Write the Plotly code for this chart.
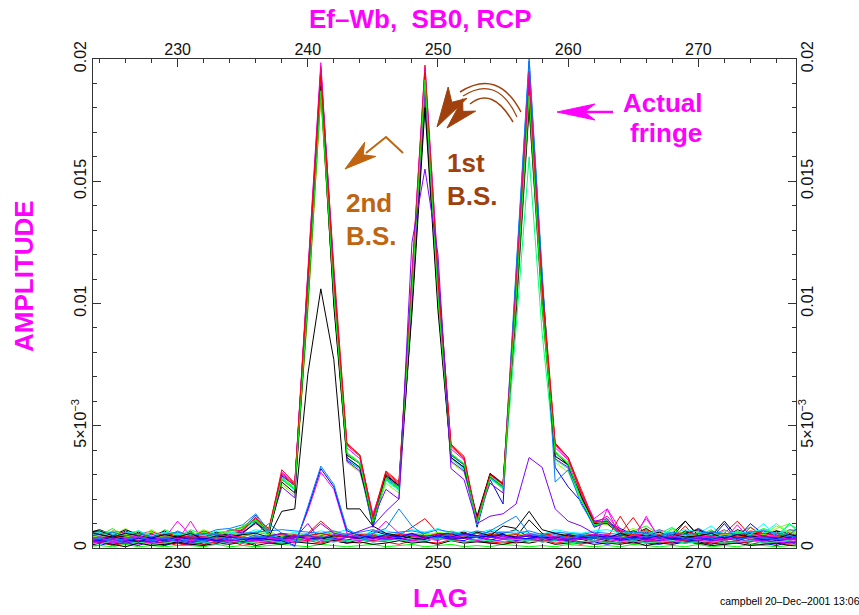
import plotly.graph_objects as go

# ---------------- data (amplitude values in units of 1e-5) ----------------
lags = list(range(223, 279))   # 56 lag samples
UNIT = 1e-5

x_tick_vals = [230, 240, 250, 260, 270]
x_tick_text = ["230", "240", "250", "260", "270"]
y_tick_vals = [0, 0.005, 0.01, 0.015, 0.02]
y_tick_text = ["0", "5\u00d710<sup>\u22123</sup>", "0.01", "0.015", "0.02"]

# baselines with three fringe peaks (lags 223-235 | 236-263 | 264-278)
F01 = [60, 75, 55, 40, 65, 50, 35, 55, 45, 60, 40, 70, 85,
       110, 60, 280, 240, 980, 1860, 1010, 380, 345, 110, 295, 255, 990, 1830, 1000, 380, 340, 120, 290, 250, 960, 1800, 980, 390, 340, 210, 95, 110,
       70, 55, 80, 45, 60, 110, 50, 65, 40, 75, 55, 45, 70, 60, 50]
F02 = [45, 30, 65, 50, 25, 40, 60, 35, 70, 30, 55, 60, 75,
       125, 70, 320, 265, 1130, 1950, 1150, 430, 380, 130, 315, 270, 1120, 1975, 1130, 420, 370, 100, 305, 265, 1100, 1900, 1090, 430, 370, 240, 110, 100,
       60, 125, 45, 70, 35, 55, 80, 40, 60, 110, 50, 35, 65, 45, 55]
F03 = [70, 50, 80, 45, 60, 35, 75, 55, 40, 65, 50, 45, 90,
       120, 65, 290, 245, 1040, 1880, 1060, 390, 350, 95, 285, 245, 1050, 1920, 1060, 385, 345, 90, 295, 255, 1030, 1870, 1040, 395, 350, 200, 90, 120,
       45, 70, 90, 55, 40, 65, 50, 75, 30, 60, 85, 50, 40, 70, 80]
F04 = [35, 55, 40, 70, 45, 60, 30, 50, 65, 40, 55, 35, 80,
       135, 55, 295, 255, 1080, 1910, 1040, 360, 325, 85, 280, 240, 1080, 1940, 1090, 370, 330, 85, 280, 180, 1120, 1990, 1110, 330, 250, 190, 85, 105,
       80, 55, 40, 65, 35, 70, 50, 45, 60, 40, 100, 55, 35, 50, 45]
F05 = [50, 40, 30, 55, 70, 45, 50, 60, 35, 45, 65, 50, 70,
       115, 75, 285, 235, 1060, 1930, 1100, 365, 325, 100, 275, 235, 1030, 1900, 1080, 365, 320, 110, 285, 240, 1090, 1960, 1070, 380, 335, 195, 100, 115,
       55, 45, 60, 75, 50, 35, 60, 90, 45, 55, 40, 60, 100, 55, 45]
F06 = [40, 65, 45, 35, 55, 70, 40, 110, 50, 35, 60, 45, 65,
       105, 50, 310, 265, 1150, 1985, 1120, 410, 365, 140, 290, 250, 1110, 1965, 1140, 405, 360, 125, 300, 265, 1060, 1920, 1040, 410, 360, 225, 120, 160,
       75, 50, 120, 45, 60, 55, 40, 70, 50, 60, 45, 75, 50, 40, 60]
F07 = [75, 55, 50, 80, 40, 75, 45, 65, 55, 70, 45, 60, 80,
       130, 65, 260, 215, 970, 1850, 1020, 350, 310, 115, 265, 225, 1000, 1880, 1020, 350, 310, 115, 265, 225, 1000, 1830, 990, 350, 310, 195, 105, 95,
       60, 80, 55, 40, 75, 50, 65, 45, 70, 55, 60, 45, 80, 100, 60]
F08 = [55, 70, 60, 45, 50, 40, 60, 45, 75, 55, 40, 65, 60,
       110, 60, 285, 240, 1020, 1900, 1070, 370, 330, 100, 280, 240, 1040, 1910, 1050, 370, 325, 95, 285, 245, 900, 1600, 880, 360, 325, 200, 95, 115,
       50, 65, 45, 60, 85, 40, 55, 60, 45, 70, 50, 60, 45, 95, 70]
F09 = [45, 60, 35, 65, 50, 55, 40, 70, 45, 55, 75, 80, 95,
       140, 70, 300, 255, 1100, 1940, 1070, 385, 345, 105, 290, 250, 1080, 1950, 1070, 380, 340, 105, 290, 250, 1140, 2005, 1130, 270, 320, 180, 90, 105,
       65, 45, 70, 50, 60, 45, 80, 55, 40, 65, 50, 45, 60, 50, 65]
F10 = [60, 45, 55, 35, 60, 45, 55, 40, 60, 50, 45, 55, 65,
       100, 70, 250, 205, 1050, 1960, 1120, 355, 315, 120, 240, 200, 990, 1870, 1060, 355, 315, 120, 265, 225, 1060, 1930, 1080, 365, 330, 210, 110, 120,
       55, 40, 65, 50, 45, 60, 70, 45, 55, 40, 65, 50, 55, 45, 60]
F11 = [50, 35, 70, 60, 45, 55, 65, 50, 35, 60, 50, 75, 70,
       125, 60, 300, 255, 1120, 1970, 1090, 420, 375, 120, 305, 260, 1100, 1960, 1080, 415, 365, 110, 300, 260, 1080, 1950, 1060, 420, 365, 220, 100, 130,
       70, 60, 45, 75, 55, 40, 60, 50, 75, 45, 55, 70, 40, 65, 55]
F12 = [65, 40, 50, 75, 55, 45, 70, 35, 55, 45, 65, 50, 60,
       105, 55, 270, 225, 1000, 1890, 990, 370, 330, 100, 300, 255, 960, 1800, 970, 370, 330, 130, 305, 260, 1000, 1820, 1010, 375, 340, 210, 100, 100,
       55, 70, 50, 65, 40, 60, 75, 50, 110, 45, 60, 55, 70, 40, 55]
F13 = [55, 65, 45, 55, 35, 65, 50, 60, 45, 70, 55, 45, 75,
       120, 80, 305, 260, 1090, 1935, 1100, 425, 380, 125, 310, 265, 1070, 1945, 1100, 425, 375, 115, 300, 260, 1040, 1870, 1060, 425, 370, 230, 105, 110,
       65, 50, 75, 55, 45, 70, 50, 65, 55, 45, 70, 60, 50, 75, 65]
F14 = [40, 55, 65, 50, 70, 40, 55, 45, 65, 50, 60, 70, 85,
       115, 65, 280, 240, 1010, 1870, 1040, 385, 345, 105, 285, 245, 1050, 1915, 1030, 385, 345, 105, 285, 245, 1020, 1850, 1000, 390, 345, 200, 95, 105,
       50, 60, 70, 45, 80, 55, 45, 60, 50, 65, 55, 80, 60, 50, 90]

# noise-only baselines
N01 = [20, 30, 15, 25, 35, 20, 10, 25, 30, 15, 20, 35, 25, 30, 45, 40, 35, 50, 60, 45, 55, 40, 70, 55,
       45, 60, 50, 40, 55, 65, 45, 50, 60, 75, 45, 40, 30, 35, 25, 40, 30, 20, 35, 25, 30, 20, 35, 25,
       15, 30, 20, 25, 35, 20, 25, 30]
N02 = [10, 20, 35, 15, 25, 10, 30, 20, 15, 25, 40, 20, 30, 25, 35, 30, 45, 60, 110, 65, 50, 40, 55, 45,
       50, 85, 120, 60, 40, 55, 45, 70, 50, 40, 60, 35, 45, 55, 40, 30, 40, 130, 45, 35, 25, 40, 90, 30,
       25, 40, 30, 85, 45, 30, 20, 35]
N03 = [35, 25, 45, 30, 20, 40, 55, 35, 25, 40, 30, 20, 45, 65, 55, 30, 40, 35, 50, 45, 60, 50, 40, 55,
       45, 50, 60, 40, 70, 55, 65, 45, 55, 40, 50, 60, 45, 35, 50, 45, 35, 45, 30, 50, 40, 35, 45, 55,
       40, 30, 45, 35, 50, 40, 30, 45]
N04 = [15, 10, 25, 20, 10, 30, 15, 20, 10, 25, 15, 30, 20, 35, 25, 20, 30, 25, 35, 30, 20, 35, 25, 30,
       40, 30, 25, 45, 35, 30, 50, 35, 25, 30, 40, 25, 35, 30, 20, 25, 15, 25, 30, 20, 15, 25, 20, 30,
       20, 15, 25, 30, 20, 10, 25, 20]
N05 = [50, 40, 55, 45, 35, 50, 40, 45, 55, 40, 50, 45, 35, 50, 40, 55, 45, 60, 40, 50, 55, 45, 60, 50,
       40, 55, 65, 45, 50, 60, 45, 55, 50, 45, 55, 40, 50, 45, 55, 50, 45, 40, 50, 35, 45, 55, 40, 45,
       50, 45, 40, 55, 100, 45, 50, 40]
N06 = [25, 35, 20, 30, 40, 25, 35, 30, 110, 25, 35, 30, 20, 40, 30, 25, 35, 30, 40, 45, 35, 30, 45, 40,
       35, 45, 40, 30, 50, 40, 45, 35, 40, 35, 30, 45, 40, 35, 45, 30, 160, 40, 30, 130, 35, 25, 40, 35,
       30, 35, 95, 30, 40, 35, 25, 35]
N07 = [60, 50, 70, 55, 45, 65, 40, 60, 50, 75, 55, 65, 50, 60, 70, 45, 55, 50, 45, 60, 50, 55, 45, 50,
       60, 45, 55, 50, 40, 55, 60, 50, 45, 55, 50, 45, 40, 55, 60, 50, 45, 55, 40, 50, 60, 45, 55, 50,
       40, 60, 50, 45, 55, 90, 65, 50]
N08 = [30, 45, 25, 40, 35, 50, 30, 45, 35, 40, 55, 45, 30, 40, 35, 50, 40, 55, 45, 35, 50, 40, 45, 55,
       50, 40, 35, 55, 45, 40, 50, 45, 35, 45, 55, 40, 45, 50, 35, 40, 45, 35, 40, 50, 45, 35, 40, 45,
       50, 40, 35, 45, 40, 50, 100, 45]
N09 = [40, 30, 50, 35, 45, 30, 40, 35, 45, 30, 40, 50, 35, 55, 100, 60, 50, 45, 40, 30, 45, 40, 35, 45,
       40, 35, 50, 45, 55, 40, 35, 60, 45, 40, 35, 45, 30, 40, 35, 45, 40, 35, 45, 30, 40, 35, 30, 40,
       35, 40, 30, 45, 35, 40, 45, 30]
N10 = [20, 35, 25, 15, 30, 20, 25, 35, 20, 30, 15, 25, 20, 30, 25, 35, 40, 100, 30, 25, 45, 35, 30, 40,
       35, 25, 30, 40, 35, 45, 30, 25, 35, 30, 40, 25, 30, 35, 40, 30, 25, 35, 20, 30, 25, 35, 30, 25,
       30, 20, 25, 35, 30, 25, 20, 30]
N11 = [45, 55, 40, 50, 60, 45, 55, 40, 50, 45, 60, 40, 55, 50, 45, 60, 55, 45, 50, 65, 45, 55, 50, 45,
       60, 50, 45, 55, 50, 60, 45, 55, 50, 45, 60, 50, 40, 55, 45, 50, 55, 45, 50, 60, 45, 50, 55, 45,
       50, 55, 45, 50, 60, 45, 55, 50]
N12 = [65, 70, 50, 45, 55, 40, 50, 45, 40, 35, 45, 50, 40, 45, 35, 50, 45, 40, 35, 50, 45, 40, 55, 45,
       35, 50, 45, 55, 40, 45, 60, 50, 55, 45, 115, 60, 45, 40, 50, 45, 40, 50, 45, 55, 40, 45, 110, 50,
       45, 40, 55, 45, 50, 45, 40, 55]
N13 = [30, 20, 35, 25, 40, 30, 20, 35, 25, 40, 30, 35, 25, 45, 35, 40, 50, 35, 45, 40, 30, 50, 45, 35,
       40, 30, 45, 50, 35, 40, 45, 30, 50, 35, 40, 45, 30, 40, 35, 50, 45, 30, 40, 35, 50, 40, 35, 30,
       40, 100, 30, 45, 40, 30, 35, 40]
N14 = [15, 25, 10, 20, 30, 15, 25, 10, 20, 15, 25, 30, 10, 20, 25, 15, 25, 30, 20, 35, 25, 20, 30, 25,
       15, 30, 25, 20, 35, 25, 30, 20, 25, 20, 30, 35, 20, 25, 15, 30, 20, 25, 15, 30, 20, 25, 30, 15,
       25, 20, 30, 15, 25, 20, 15, 25]
N15 = [5, 10, 5, 15, 5, 10, 5, 10, 10, 5, 15, 5, 10, 5, 10, 15, 10, 5, 15, 10, 5, 10, 15, 5,
       10, 15, 5, 10, 15, 5, 10, 5, 15, 10, 5, 10, 5, 15, 10, 5, 10, 5, 15, 10, 5, 10, 5, 15,
       5, 10, 5, 15, 10, 5, 10, 5]
N16 = [55, 65, 45, 60, 70, 50, 65, 55, 60, 50, 70, 65, 55, 75, 60, 50, 65, 55, 70, 60, 75, 55, 65, 70,
       60, 75, 65, 80, 55, 70, 60, 75, 65, 70, 60, 55, 75, 65, 60, 70, 75, 60, 65, 55, 70, 60, 75, 65,
       55, 70, 60, 65, 75, 60, 70, 65]
N17 = [15, 25, 20, 30, 15, 25, 35, 20, 30, 25, 15, 35, 25, 30, 20, 35, 30, 40, 25, 35, 45, 30, 40, 35,
       45, 30, 40, 35, 50, 40, 30, 45, 35, 40, 30, 45, 35, 25, 40, 30, 25, 35, 20, 30, 25, 35, 20, 30,
       25, 30, 20, 35, 25, 15, 30, 20]
N18 = [40, 50, 35, 45, 55, 40, 50, 45, 35, 45, 40, 50, 60, 45, 55, 50, 60, 45, 55, 65, 50, 60, 55, 45,
       55, 60, 50, 65, 55, 45, 60, 55, 50, 60, 45, 55, 50, 60, 45, 55, 50, 45, 55, 40, 50, 45, 55, 50,
       45, 55, 50, 40, 55, 45, 50, 85]
N19 = [10, 20, 15, 5, 20, 10, 15, 25, 15, 10, 20, 15, 25, 10, 20, 15, 25, 20, 15, 30, 20, 25, 15, 20,
       30, 20, 25, 15, 30, 20, 25, 20, 15, 25, 20, 30, 15, 20, 25, 15, 20, 15, 25, 10, 20, 15, 25, 20,
       10, 15, 20, 10, 15, 20, 10, 15]
N20 = [60, 55, 65, 50, 60, 45, 55, 65, 50, 60, 55, 45, 60, 65, 70, 75, 70, 65, 60, 70, 55, 65, 75, 60,
       65, 70, 60, 75, 65, 55, 70, 60, 65, 60, 70, 55, 65, 60, 55, 65, 60, 55, 65, 60, 50, 65, 55, 60,
       65, 60, 55, 65, 70, 60, 55, 100]
N21 = [45, 35, 50, 40, 45, 35, 40, 50, 40, 45, 35, 50, 45, 40, 50, 55, 45, 50, 60, 50, 45, 55, 50, 45,
       55, 50, 45, 60, 55, 50, 45, 55, 50, 55, 45, 50, 60, 45, 50, 55, 45, 50, 55, 40, 50, 45, 40, 50,
       45, 40, 50, 45, 40, 50, 45, 40]
N22 = [25, 15, 30, 20, 25, 15, 20, 30, 20, 25, 15, 30, 20, 25, 30, 20, 30, 25, 35, 25, 30, 35, 25, 30,
       35, 25, 30, 40, 30, 25, 35, 30, 25, 35, 30, 25, 30, 20, 25, 30, 20, 25, 30, 20, 25, 30, 20, 25,
       30, 20, 25, 30, 20, 25, 30, 90]
N23 = [35, 45, 40, 30, 45, 35, 40, 45, 35, 40, 30, 45, 40, 35, 45, 40, 45, 50, 40, 55, 45, 50, 40, 50,
       45, 55, 50, 45, 40, 55, 50, 45, 40, 45, 50, 40, 45, 35, 40, 45, 35, 40, 45, 35, 40, 45, 35, 40,
       45, 35, 40, 45, 50, 40, 35, 45]

# special baselines
S_BLACK = [70, 55, 45, 60, 50, 40, 55, 45, 60, 35, 50, 45, 55,
           60, 45, 150, 160, 710, 1060, 770, 160, 160, 90, 60, 50, 40, 35, 55, 60, 40, 65, 50, 90, 80, 150, 75, 60, 50, 45, 55, 40,
           60, 45, 50, 40, 55, 45, 50, 60, 40, 55, 45, 50, 40, 55, 45]
S_AZURE = [30, 40, 25, 35, 45, 30, 40, 25, 35, 30, 45, 35, 40,
           45, 50, 40, 5, 170, 335, 260, 80, 45, 60, 80, 160, 90, 50, 40, 60, 50, 45, 70, 100, 130, 60, 45, 55, 40, 50, 45, 40,
           45, 35, 50, 40, 55, 35, 45, 40, 50, 35, 45, 40, 35, 50, 40]
S_BLUE = [40, 30, 45, 35, 25, 40, 30, 45, 35, 40, 30, 45, 35,
          40, 35, 30, 10, 160, 325, 250, 70, 50, 40, 55, 45, 60, 40, 50, 45, 60, 50, 45, 55, 40, 50, 45, 40, 55, 45, 40, 50,
          35, 45, 40, 50, 35, 40, 45, 35, 50, 40, 45, 35, 40, 45, 50]
S_MAGENTA = [35, 45, 30, 40, 50, 35, 45, 40, 30, 45, 35, 50, 40,
             45, 40, 35, 20, 150, 310, 240, 60, 45, 55, 110, 60, 50, 40, 55, 45, 50, 60, 45, 50, 40, 55, 50, 45, 40, 50, 55, 45,
             40, 50, 45, 35, 50, 40, 45, 50, 35, 45, 40, 50, 45, 35, 40]
S_PURPLE = [30, 25, 35, 20, 30, 25, 35, 30, 20, 35, 25, 30, 35,
            40, 50, 60, 45, 55, 100, 60, 50, 70, 90, 150, 200, 1250, 1550, 1200, 325, 280, 100, 130, 140, 180, 370, 330, 160, 110, 90, 60, 50,
            45, 35, 40, 30, 45, 35, 40, 30, 35, 40, 45, 30, 35, 40, 30]

BLACK, RED, GREEN, BLUE, CYAN, MAGENTA = "#000000", "#ff0000", "#00ff00", "#0000ff", "#00ffff", "#ff00ff"
LIME, SPRING, AZURE, PURPLE, ROSE = "#80ff00", "#00ff80", "#0080ff", "#8000ff", "#ff0080"

fringe_series = [(F01, BLACK), (F02, RED), (F03, GREEN), (F04, BLUE), (F05, CYAN), (F06, MAGENTA),
                 (F07, LIME), (F08, SPRING), (F09, AZURE), (F10, PURPLE), (F11, ROSE), (F12, BLACK),
                 (F13, RED), (F14, GREEN)]
noise_series = [(N01, BLACK), (N02, RED), (N03, GREEN), (N04, BLUE), (N05, CYAN), (N06, MAGENTA),
                (N07, LIME), (N08, SPRING), (N09, AZURE), (N10, PURPLE), (N11, ROSE), (N12, BLACK),
                (N13, BLUE), (N14, RED), (N15, GREEN), (N16, CYAN), (N17, MAGENTA), (N18, LIME),
                (N19, BLACK), (N20, AZURE), (N21, RED), (N22, SPRING), (N23, PURPLE)]
special_series = [(S_BLACK, BLACK), (S_PURPLE, PURPLE), (S_MAGENTA, MAGENTA), (S_BLUE, BLUE), (S_AZURE, AZURE)]

for _vals, _c in fringe_series + noise_series + special_series:
    assert len(_vals) == len(lags)

# ---------------- figure ----------------
FONT = "Liberation Sans, Arial, Helvetica, sans-serif"
W, H = 859, 615
ML, MR, MT, MB = 93, 63, 59, 67
PW, PH = W - ML - MR, H - MT - MB


def pxx(x):
    return (x - ML) / PW


def pxy(y):
    return (H - MB - y) / PH


fig = go.Figure()
for vals, col in fringe_series + noise_series + special_series:
    fig.add_trace(go.Scatter(x=lags, y=[v * UNIT for v in vals], mode="lines",
                             line=dict(color=col, width=1), showlegend=False, hoverinfo="skip"))
# helper trace so that the mirrored label axes are drawn
fig.add_trace(go.Scatter(x=[lags[0]], y=[F01[0] * UNIT], xaxis="x2", yaxis="y2", mode="markers",
                         marker=dict(opacity=0), showlegend=False, hoverinfo="skip"))

XR = [223.5, 277.5]
YR = [0, 0.02]
tickfont = dict(family=FONT, size=16, color="#111")
axcol = "#333"

fig.update_layout(
    width=W, height=H, margin=dict(l=ML, r=MR, t=MT, b=MB),
    paper_bgcolor="white", plot_bgcolor="white",
    xaxis=dict(range=XR, showgrid=False, zeroline=False, showline=True, linecolor=axcol, linewidth=1,
               mirror="allticks", ticks="inside", ticklen=8, tickcolor=axcol,
               tickvals=x_tick_vals, ticktext=x_tick_text, tickfont=tickfont,
               minor=dict(dtick=2, tick0=230, ticks="inside", ticklen=4, tickcolor=axcol)),
    yaxis=dict(range=YR, showgrid=False, zeroline=False, showline=True, linecolor=axcol, linewidth=1,
               mirror="allticks", ticks="inside", ticklen=8, tickcolor=axcol,
               tickvals=y_tick_vals, ticktext=y_tick_text, tickfont=tickfont, tickangle=-90,
               minor=dict(dtick=0.001, tick0=0, ticks="inside", ticklen=4, tickcolor=axcol)),
    xaxis2=dict(range=XR, overlaying="x", side="top", showgrid=False, zeroline=False, showline=False,
                ticks="", tickvals=x_tick_vals, ticktext=x_tick_text, tickfont=tickfont),
    yaxis2=dict(range=YR, overlaying="y", side="right", showgrid=False, zeroline=False, showline=False,
                ticks="", tickvals=y_tick_vals, ticktext=y_tick_text, tickfont=tickfont, tickangle=-90),
)

ann = []


def text(s, x, y, size, color, xanchor="center", angle=0, bold=True):
    ann.append(dict(text=("<b>%s</b>" % s) if bold else s, x=pxx(x), y=pxy(y), xref="paper", yref="paper",
                    xanchor=xanchor, yanchor="middle", showarrow=False, textangle=angle,
                    font=dict(family=FONT, size=size, color=color)))


text("Ef\u2013Wb,  SB0, RCP", 420, 19, 26, MAGENTA)
text("LAG", 440, 598, 26, MAGENTA)
text("AMPLITUDE", 24, 276, 26, MAGENTA, angle=-90)
text("Actual", 704, 103, 26, MAGENTA, xanchor="right")
text("fringe", 704, 133, 26, MAGENTA, xanchor="right")
BROWN1 = "#a0410d"
BROWN2 = "#c0640f"
text("1st", 445, 163, 26, BROWN1, xanchor="left")
text("B.S.", 445, 196, 26, BROWN1, xanchor="left")
text("2nd", 344, 203, 26, BROWN2, xanchor="left")
text("B.S.", 344, 236, 26, BROWN2, xanchor="left")
text("campbell 20\u2013Dec\u20132001 13:06", 718, 601, 10.5, "#000", xanchor="left", bold=False)
fig.update_layout(annotations=ann)

shapes = []


def P(x, y):
    return "%.5f,%.5f" % (pxx(x), pxy(y))


def line_path(pts, color, width):
    d = "M" + " L".join(P(x, y) for x, y in pts)
    shapes.append(dict(type="path", path=d, xref="paper", yref="paper", line=dict(color=color, width=width)))


def curve(p0, c, p1, color, width):
    d = "M%s Q%s %s" % (P(*p0), P(*c), P(*p1))
    shapes.append(dict(type="path", path=d, xref="paper", yref="paper", line=dict(color=color, width=width)))


def head(tip, frm, length, half, color):
    dx, dy = tip[0] - frm[0], tip[1] - frm[1]
    n = (dx * dx + dy * dy) ** 0.5
    ux, uy = dx / n, dy / n
    bx, by = tip[0] - length * ux, tip[1] - length * uy
    nx, ny = -uy, ux
    b1 = (bx + half * nx, by + half * ny)
    b2 = (bx - half * nx, by - half * ny)
    notch = (tip[0] - 0.72 * length * ux, tip[1] - 0.72 * length * uy)
    d = "M%s L%s L%s L%s Z" % (P(*tip), P(*b1), P(*notch), P(*b2))
    shapes.append(dict(type="path", path=d, xref="paper", yref="paper", fillcolor=color,
                       line=dict(color=color, width=1)))


# "Actual fringe" arrow
line_path([(613, 112), (585, 112)], MAGENTA, 2.5)
head((557, 112), (613, 112), 38, 8, MAGENTA)
# "1st B.S." curved arrows (double-stroked)
curve((521, 112), (498, 68), (460, 92), BROWN1, 1.5)
curve((517, 117), (497, 74), (463, 96), BROWN1, 1.2)
curve((513, 122), (492, 86), (470, 104), BROWN1, 1.5)
head((437, 127), (458, 92), 40, 11, BROWN1)
head((447, 128), (470, 104), 32, 9, BROWN1)
# "2nd B.S." arrow
line_path([(403, 153), (386, 137), (366, 153)], BROWN2, 2)
head((345, 169), (386, 137), 32, 9, BROWN2)
fig.update_layout(shapes=shapes)

fig.write_html("out.html")
